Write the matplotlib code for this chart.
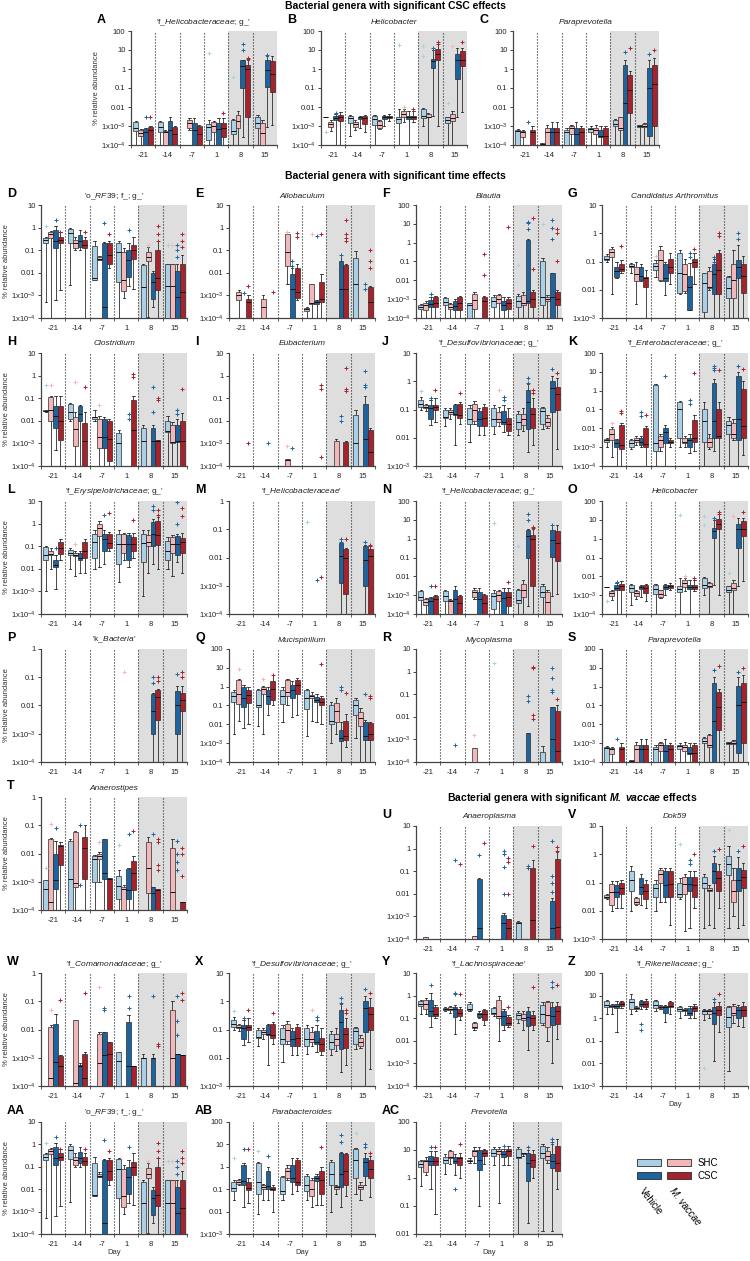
import matplotlib
matplotlib.use("Agg")
import matplotlib.pyplot as plt
from matplotlib.patches import Rectangle
from matplotlib.ticker import NullLocator

plt.rcParams["font.family"] = ["Liberation Sans", "DejaVu Sans"]
plt.rcParams["mathtext.fontset"] = "custom"
plt.rcParams["mathtext.rm"] = "Liberation Sans"
plt.rcParams["mathtext.it"] = "Liberation Sans:italic"
plt.rcParams["mathtext.bf"] = "Liberation Sans:bold"
plt.rcParams["mathtext.bfit"] = "Liberation Sans:italic:bold"

days = ["-21", "-14", "-7", "1", "8", "15"]
groups = ["Vehicle SHC", "M. vaccae SHC", "Vehicle CSC", "M. vaccae CSC"]
colors = ["#a9d0e7", "#f3b6b9", "#1b64a0", "#a8222b"]
decade_labels = {2: "100", 1: "10", 0: "1", -1: "0.1", -2: "0.01",
                 -3: "1x10$^{-3}$", -4: "1x10$^{-4}$"}

# one row per day, one box per group: (low whisker, q1, median, q3, high whisker)
# as log10(% relative abundance); -5 means below the axis; N = no box
N = None

helico_fam = [
    [(-5, -3.25, -3.1, -2.8, -2.75), (-5, -3.5, -3.35, -3.2, -3.15), (-5, -5, -3.3, -3.15, -3.1), (-5, -5, -3.2, -3.05, -3.0)],
    [(-5, -3.3, -3.05, -2.8, -2.75), (-5, -5, -3.3, -3.25, -3.2), (-5, -5, -3.2, -2.75, -2.5), (-5, -5, -3.4, -3.05, -3.0)],
    [N, (-3.2, -3.1, -2.85, -2.7, -2.6), (-5, -5, -3.2, -2.85, -2.6), (-5, -5, -3.4, -3.0, -2.95)],
    [(-5, -3.75, -3.05, -2.9, -2.7), (-5, -3.3, -3.0, -2.8, -2.75), (-5, -5, -3.15, -2.85, -2.6), (-5, -3.6, -3.1, -2.85, -2.6)],
    [(-5, -3.4, -3.25, -2.7, -2.65), (-5, -3.1, -2.75, -2.4, -2.2), (-3.6, -1.0, 0.15, 0.47, 0.5), (-5, -2.5, 0.0, 0.2, 0.5)],
    [(-5, -3.1, -2.85, -2.5, -2.4), (-5, -5, -3.35, -2.85, -2.7), (-3.05, -0.95, -0.05, 0.45, 0.7), (-2.95, -1.2, -0.25, 0.4, 0.7)],
]
helico_genus = [
    [(-2.55, -2.55, -2.55, -2.55, -2.55), (-3.25, -3.05, -2.9, -2.8, -2.7), (-5, -2.7, -2.6, -2.45, -2.35), (-5, -2.75, -2.5, -2.4, -2.25)],
    [(-3.5, -2.85, -2.6, -2.45, -2.4), (-3.2, -3.05, -2.9, -2.8, -2.7), (-3.1, -2.65, -2.55, -2.5, -2.45), (-3.3, -2.9, -2.6, -2.45, -2.4)],
    [(-5, -2.95, -2.65, -2.45, -2.4), (-3.15, -3.1, -2.95, -2.75, -2.7), (-3.0, -2.65, -2.55, -2.45, -2.4), (-2.75, -2.6, -2.5, -2.45, -2.35)],
    [(-5, -2.85, -2.65, -2.5, -2.1), (-2.8, -2.55, -2.35, -2.2, -2.1), (-5, -2.65, -2.55, -2.45, -2.2), (-2.8, -2.65, -2.55, -2.45, -2.2)],
    [(-3.0, -2.6, -2.45, -2.1, -2.05), (-5, -2.55, -2.5, -2.35, -2.3), (-2.45, 0.05, 0.4, 0.55, 1.0), (-3.0, 0.5, 0.8, 1.05, 1.3)],
    [(-5, -2.85, -2.7, -2.5, -2.5), (-5, -2.75, -2.6, -2.35, -2.2), (-2.5, -0.5, 0.5, 0.8, 1.1), (-2.25, 0.15, 0.5, 0.95, 1.1)],
]
paraprevotella = [
    [(-5, -5, -3.25, -3.2, -3.15), (-5, -3.6, -3.3, -3.25, -3.2), N, (-5, -5, -3.3, -3.2, -3.0)],
    [(-5, -5, -3.95, -3.9, -3.9), (-5, -5, -3.3, -3.1, -2.95), (-5, -5, -3.3, -3.1, -2.8), (-5, -5, -3.3, -3.1, -2.8)],
    [(-5, -5, -3.3, -3.2, -3.1), (-5, -3.4, -3.1, -3.0, -2.95), (-5, -5, -3.4, -3.1, -2.8), (-5, -5, -3.3, -3.1, -3.0)],
    [(-5, -3.3, -3.15, -3.1, -3.0), (-5, -3.4, -3.2, -3.1, -2.95), (-5, -3.6, -3.5, -3.2, -3.0), (-5, -4.0, -3.5, -3.1, -3.0)],
    [(-5, -3.0, -2.9, -2.7, -2.65), (-5, -3.2, -3.1, -2.55, -2.5), (-5, -4.5, -1.8, 0.2, 0.5), (-5, -2.3, -1.1, -0.3, -0.1)],
    [(-5, -3.05, -3.0, -2.95, -2.95), (-5, -3.05, -3.0, -2.9, -2.85), (-5, -3.5, -1.0, 0.05, 0.5), (-5, -3.0, -0.8, 0.2, 0.6)],
]
rf39 = [
    [(-3.3, -0.7, -0.55, -0.45, -0.4), (-5, -0.45, -0.3, -0.2, -0.15), (-3.2, -0.92, -0.6, -0.1, 0.05), (-2.75, -0.7, -0.55, -0.4, -0.2)],
    [(-2.55, -0.67, -0.23, -0.08, 0.0), (-1.0, -0.92, -0.7, -0.55, -0.4), (-1.0, -0.85, -0.6, -0.33, -0.1), (-5, -0.92, -0.75, -0.55, -0.4)],
    [(-2.3, -2.3, -2.25, -0.82, -0.58), (-1.45, -1.45, -1.4, -1.3, -1.25), (-5, -5, -3.5, -0.7, -0.65), (-1.8, -1.6, -1.2, -0.7, -0.6)],
    [(-5, -2.4, -1.1, -0.67, -0.6), (-3.1, -2.8, -2.3, -1.1, -0.9), (-2.6, -2.2, -1.45, -1.0, -0.7), (-2.7, -1.37, -1.0, -0.78, -0.4)],
    [(-5, -5, -2.62, -1.66, -1.6), (-3.95, -1.5, -1.3, -1.07, -0.85), (-3.5, -3.15, -2.4, -2.03, -1.9), (-4.0, -2.77, -2.25, -1.0, -0.6)],
    [(-5, -5, -2.6, -1.6, -1.6), (-5, -5, -2.6, -1.6, -1.6), (-5, -5, -3.07, -1.9, -1.6), (-5, -5, -2.85, -1.6, -1.2)],
]
allobaculum = [
    [N, (-4.0, -3.2, -3.0, -2.85, -2.75), N, (-5, -5, -3.3, -3.15, -3.0)],
    [N, (-5, -5, -3.5, -3.15, -3.0), N, N],
    [N, (-2.5, -1.7, -1.1, -0.3, -0.2), (-5, -5, -2.7, -2.05, -1.8), (-3.2, -3.1, -2.85, -1.8, -1.6)],
    [(-5, -3.7, -3.6, -3.55, -3.5), (-5, -3.4, -3.35, -2.5, -2.5), (-5, -3.4, -3.3, -3.25, -3.2), (-5, -3.3, -3.15, -2.4, -2.05)],
    [N, N, (-5, -5, -2.7, -1.5, -1.2), (-5, -5, -2.7, -1.65, -1.6)],
    [(-5, -5, -2.5, -1.35, -1.05), N, N, (-5, -5, -3.3, -2.65, -2.6)],
]
blautia = [
    [(-5, -3.5, -3.4, -3.3, -3.25), (-5, -3.6, -3.3, -3.2, -3.1), (-5, -3.4, -3.25, -3.05, -2.9), (-5, -3.4, -3.2, -2.9, -2.85)],
    [(-5, -3.3, -3.15, -2.95, -2.9), (-5, -3.5, -3.4, -3.25, -3.2), (-5, -3.6, -3.35, -3.1, -3.0), (-5, -3.6, -3.2, -2.9, -2.85)],
    [(-5, -5, -3.3, -3.2, -3.2), (-5, -3.5, -3.05, -2.7, -2.6), N, (-5, -5, -3.1, -2.9, -2.85)],
    [(-5, -3.4, -3.1, -2.9, -2.8), (-5, -3.2, -3.0, -2.8, -2.7), (-5, -3.6, -3.3, -3.1, -2.9), (-5, -3.5, -3.2, -3.0, -2.9)],
    [(-5, -3.4, -3.1, -2.85, -2.75), (-5, -3.3, -3.2, -2.8, -2.6), (-5, -3.2, -3.1, 0.15, 0.2), (-5, -3.4, -3.0, -2.6, -2.5)],
    [(-5, -3.3, -2.9, -0.95, -0.8), (-5, -3.1, -3.0, -2.9, -2.8), (-5, -5, -2.9, -1.6, -1.6), (-5, -3.3, -3.0, -2.6, -2.5)],
]
arthromitus = [
    [(-1.0, -0.95, -0.9, -0.8, -0.75), (-2.15, -0.85, -0.65, -0.55, -0.5), (-1.6, -1.55, -1.35, -1.2, -1.0), (-1.4, -1.35, -1.25, -1.1, -0.95)],
    [(-1.4, -1.2, -1.15, -1.1, -1.05), (-2.5, -1.7, -1.45, -1.2, -1.0), (-1.7, -1.65, -1.5, -1.2, -1.1), (-5, -1.9, -1.6, -1.55, -1.3)],
    [(-1.55, -1.3, -1.15, -1.05, -0.95), (-1.7, -1.65, -0.95, -0.6, -0.45), (-2.2, -1.7, -1.6, -1.1, -1.0), (-1.8, -1.4, -1.2, -0.9, -0.7)],
    [(-2.15, -2.1, -1.4, -0.7, -0.6), (-2.1, -2.05, -1.45, -1.1, -0.9), (-2.7, -2.7, -1.9, -1.5, -1.05), (-1.8, -1.2, -1.0, -0.9, -0.7)],
    [(-5, -2.8, -1.75, -1.4, -1.4), (-2.0, -1.95, -1.9, -1.35, -1.2), (-5, -2.15, -1.45, -1.1, -0.9), (-5, -2.15, -1.3, -0.7, -0.6)],
    [(-5, -2.3, -1.95, -1.55, -1.5), (-5, -2.3, -1.65, -1.1, -0.6), (-5, -1.6, -1.2, -0.95, -0.4), (-5, -2.1, -1.5, -1.1, -0.8)],
]
clostridium = [
    [(-1.6, -1.55, -1.55, -1.5, -1.5), (-5, -2.0, -1.5, -0.95, -0.9), (-3.3, -2.3, -1.8, -1.35, -0.9), (-5, -2.85, -2.0, -1.35, -0.9)],
    [(-2.0, -1.9, -1.6, -1.25, -1.2), (-5, -3.1, -2.35, -1.85, -1.6), (-5, -2.0, -1.7, -1.35, -1.3), (-5, -5, -2.9, -2.1, -1.6)],
    [(-2.0, -1.9, -1.85, -1.85, -1.5), (-5, -3.2, -2.7, -1.9, -1.8), (-5, -3.2, -2.7, -1.9, -1.85), (-5, -3.8, -2.8, -2.0, -1.9)],
    [(-5, -5, -3.0, -2.55, -2.4), N, N, (-5, -5, -2.4, -1.1, -0.9)],
    [(-5, -5, -2.9, -2.3, -2.2), N, (-5, -5, -2.9, -2.3, -2.2), (-5, -5, -2.9, -2.85, -2.85)],
    [(-5, -2.5, -2.45, -2.0, -1.8), (-5, -3.0, -2.95, -2.2, -2.05), (-5, -2.95, -2.9, -2.2, -1.9), (-5, -5, -2.9, -2.0, -1.65)],
]
eubacterium = [
    [N, N, N, N],
    [N, N, N, N],
    [N, (-5, -5, -3.75, -3.7, -3.7), N, N],
    [N, N, N, N],
    [N, (-5, -5, -4.0, -2.9, -2.8), N, (-5, -5, -4.0, -2.95, -2.9)],
    [(-5, -5, -3.0, -1.75, -1.5), N, (-5, -5, -2.8, -1.25, -0.9), (-5, -5, -3.4, -2.4, -2.3)],
]
desulfo = [
    [(-1.0, -0.9, -0.8, -0.65, -0.55), (-1.05, -0.95, -0.9, -0.85, -0.8), (-1.55, -1.35, -0.95, -0.85, -0.65), (-1.45, -1.0, -0.9, -0.85, -0.6)],
    [(-1.6, -1.3, -1.25, -1.0, -0.95), (-1.35, -1.15, -1.1, -1.0, -0.95), (-2.25, -1.2, -1.15, -0.85, -0.8), (-1.5, -1.3, -1.2, -0.8, -0.75)],
    [(-2.15, -1.5, -1.35, -0.95, -0.85), (-1.5, -1.4, -1.0, -0.8, -0.7), (-1.9, -1.6, -1.35, -1.05, -0.95), (-1.9, -1.6, -1.3, -0.9, -0.8)],
    [(-1.85, -1.6, -1.35, -0.95, -0.85), (-1.6, -1.45, -1.35, -1.1, -0.9), (-1.8, -1.5, -1.45, -1.05, -0.85), (-1.9, -1.75, -1.5, -1.3, -0.95)],
    [(-1.9, -1.7, -1.45, -1.15, -1.05), (-1.75, -1.55, -1.35, -1.15, -0.95), (-2.5, -1.7, -0.75, -0.3, -0.1), (-2.25, -1.65, -1.15, -0.95, -0.6)],
    [(-1.7, -1.5, -1.05, -0.95, -0.9), (-1.65, -1.6, -1.45, -1.3, -1.2), (-5, -1.1, -0.25, 0.0, 0.2), (-2.4, -1.0, -0.45, -0.2, 0.1)],
]
entero = [
    [(-3.0, -2.7, -2.6, -2.55, -2.5), (-3.5, -2.6, -2.3, -2.05, -1.95), (-5, -3.0, -2.8, -2.6, -2.55), (-5, -3.1, -2.9, -1.8, -1.7)],
    [(-3.1, -3.0, -2.8, -2.6, -2.55), (-2.9, -2.75, -2.6, -2.5, -2.4), (-3.0, -2.9, -2.75, -2.5, -2.4), (-5, -3.0, -2.85, -2.0, -1.9)],
    [(-5, -3.2, -2.8, 0.3, 0.35), (-3.2, -3.0, -2.6, -2.4, -2.3), (-5, -2.8, -2.2, -2.0, -1.8), (-3.0, -2.8, -2.7, -2.6, -2.5)],
    [(-3.0, -2.5, -1.0, -0.6, -0.55), (-3.0, -2.8, -2.7, -2.5, -2.4), (-3.3, -3.0, -2.6, -2.5, -2.3), (-3.2, -2.7, -2.5, -1.55, -1.3)],
    [(-5, -2.7, -1.6, -1.0, -0.6), (-3.1, -3.0, -2.75, -2.5, -2.3), (-3.2, -2.5, -1.6, 0.4, 0.6), (-5, -2.5, -2.4, -1.0, -0.6)],
    [(-5, -2.3, -1.8, -1.6, -1.4), (-2.6, -2.5, -2.3, -1.7, -1.5), (-5, -2.6, -1.5, 0.8, 1.0), (-3.4, -2.5, -1.9, 0.1, 0.5)],
]
erysipelo = [
    [(-3.0, -1.6, -1.4, -1.05, -1.0), (-2.0, -1.4, -1.35, -1.2, -1.1), (-2.9, -1.9, -1.85, -1.6, -1.4), (-1.6, -1.35, -1.1, -0.8, -0.7)],
    [(-2.0, -1.4, -1.3, -1.15, -1.1), (-2.3, -1.45, -1.4, -1.3, -1.2), (-2.2, -1.6, -1.5, -1.3, -1.2), (-2.2, -1.5, -1.2, -0.8, -0.7)],
    [(-2.0, -1.5, -0.8, -0.45, -0.3), (-1.9, -0.55, -0.2, 0.0, 0.1), (-1.8, -1.2, -0.7, -0.45, -0.3), (-1.2, -1.1, -0.85, -0.45, -0.35)],
    [(-2.6, -1.8, -0.9, -0.45, -0.3), (-1.6, -1.3, -0.9, -0.45, -0.4), (-1.9, -1.6, -0.9, -0.5, -0.4), (-1.5, -1.2, -0.9, -0.6, -0.4)],
    [(-3.2, -1.7, -0.85, -0.45, -0.3), (-2.2, -1.0, -0.8, -0.5, -0.3), (-1.8, -1.0, -0.45, 0.05, 0.2), (-2.0, -0.95, -0.5, 0.1, 0.3)],
    [(-2.0, -1.6, -1.2, -0.75, -0.6), (-2.3, -1.3, -0.9, -0.6, -0.5), (-1.7, -1.4, -0.9, -0.55, -0.45), (-2.2, -1.3, -0.8, -0.65, -0.4)],
]
helico_fam_only = [
    [N, N, N, N], [N, N, N, N], [N, N, N, N], [N, N, N, N],
    [N, N, (-5, -2.9, -1.95, -1.5, -1.45), (-5, -3.3, -2.0, -1.7, -1.65)],
    [N, N, (-5, -3.0, -2.1, -1.6, -1.55), (-5, -5, -1.95, -1.7, -1.6)],
]
k_bacteria = [
    [N, N, N, N], [N, N, N, N], [N, N, N, N], [N, N, N, N],
    [N, N, (-5, -3.0, -2.2, -1.6, -1.55), (-5, -2.5, -1.7, -1.45, -1.4)],
    [N, N, (-5, -3.0, -2.0, -1.5, -1.3), (-5, -2.2, -1.8, -1.55, -1.3)],
]
mucispirillum = [
    [(-2.5, -0.8, -0.5, -0.3, -0.2), (-1.8, -0.9, -0.4, 0.35, 0.4), (-2.2, -1.1, -0.6, 0.0, 0.1), (-2.0, -0.85, -0.45, -0.2, 0.0)],
    [(-2.1, -1.1, -1.0, -0.2, -0.1), (-2.5, -0.4, -0.1, 0.0, 0.05), (-1.5, -0.9, -0.5, -0.2, 0.0), (-1.0, -0.7, -0.1, 0.3, 0.6)],
    [(-1.9, -0.9, -0.5, -0.2, 0.0), (-1.0, -0.5, -0.3, 0.35, 0.4), (-1.6, -0.6, -0.2, 0.1, 0.3), (-1.5, -0.4, 0.1, 0.35, 0.45)],
    [(-2.6, -1.2, -0.6, -0.2, -0.1), (-1.8, -0.6, -0.5, -0.45, -0.3), (-1.9, -0.8, -0.7, -0.55, -0.4), (-2.0, -1.0, -0.8, -0.6, -0.5)],
    [(-3.0, -2.0, -1.8, -1.0, -0.8), (-2.5, -1.9, -1.3, -0.85, -0.6), (-4.0, -2.9, -2.75, -2.3, -1.9), (-3.2, -2.85, -2.6, -1.8, -1.45)],
    [(-2.75, -1.5, -1.0, -0.7, -0.6), (-4.0, -2.1, -1.65, -1.35, -1.15), (-4.0, -2.85, -2.6, -1.9, -1.75), (-4.0, -2.85, -2.5, -1.95, -1.9)],
]
mycoplasma = [
    [N, N, N, N], [N, N, N, N],
    [N, (-5, -5, -4.5, -3.4, -3.4), N, N],
    [N, N, N, N],
    [N, N, (-5, -5, -4.5, -2.7, -2.7), N],
    [(-5, -5, -4.5, -3.55, -3.3), N, (-5, -5, -3.0, -1.55, -1.55), (-5, -5, -3.5, -1.75, -1.5)],
]
anaerostipes = [
    [(-5, -5, -3.25, -2.95, -2.95), (-5, -5, -3.7, -1.5, -1.45), (-5, -3.25, -2.95, -2.0, -1.55), (-5, -2.4, -1.75, -1.7, -1.6)],
    [(-5, -5, -2.9, -1.55, -1.5), (-5, -3.2, -3.05, -1.25, -1.2), N, (-5, -2.9, -1.8, -1.4, -1.0)],
    [(-5, -3.0, -2.2, -2.1, -2.05), (-3.0, -2.2, -2.1, -2.0, -1.95), (-5, -2.9, -2.7, -1.5, -1.5), (-5, -5, -2.9, -2.85, -2.85)],
    [(-5, -3.6, -3.15, -2.8, -2.6), (-5, -5, -3.25, -3.2, -3.1), (-5, -3.6, -3.3, -2.55, -2.5), (-5, -3.3, -2.7, -2.25, -2.1)],
    [N, (-5, -3.4, -2.5, -1.6, -1.4), (-5, -5, -3.4, -3.2, -3.2), (-5, -5, -3.3, -3.25, -3.25)],
    [N, (-5, -5, -3.35, -1.8, -1.5), N, (-5, -5, -3.7, -3.7, -3.7)],
]
anaeroplasma = [
    [N, (-5, -5, -4.0, -3.9, -3.9), N, N],
    [N, N, N, N],
    [N, (-5, -5, -4.0, -3.85, -3.85), (-5, -5, -3.5, -1.35, -1.3), N],
    [N, N, (-5, -5, -3.3, -2.95, -2.85), (-5, -5, -3.5, -3.1, -3.1)],
    [(-5, -5, -3.3, -3.25, -3.2), N, N, (-5, -5, -3.15, -0.85, -0.5)],
    [N, N, (-5, -5, -3.5, -2.3, -2.2), (-5, -5, -3.45, -0.45, -0.15)],
]
dok59 = [
    [(-1.6, -1.55, -1.5, -1.45, -1.4), (-2.0, -1.8, -1.35, -1.05, -0.95), (-1.9, -1.5, -1.35, -1.1, -0.95), (-1.9, -1.4, -1.2, -1.0, -0.9)],
    [(-2.0, -1.3, -0.9, -0.6, -0.4), (-1.8, -1.75, -1.7, -1.55, -1.5), (-1.8, -1.4, -1.15, -0.85, -0.7), (-1.9, -1.6, -1.3, -1.05, -0.9)],
    [(-2.0, -1.5, -1.2, -1.05, -0.9), (-1.7, -1.0, -0.7, -0.55, -0.5), (-1.7, -1.5, -1.1, -0.6, -0.5), (-2.5, -1.5, -1.05, -0.6, -0.5)],
    [(-1.6, -1.5, -1.4, -1.0, -0.85), (-2.7, -1.4, -1.05, -0.8, -0.7), (-2.6, -1.3, -1.05, -0.8, -0.6), (-1.9, -1.5, -1.1, -0.8, -0.6)],
    [(-2.6, -1.2, -1.0, -0.8, -0.7), (-2.5, -1.3, -1.25, -1.2, -1.1), (-2.6, -1.0, -0.6, -0.3, -0.05), (-1.9, -1.3, -0.85, -0.6, -0.35)],
    [(-2.6, -0.75, -0.35, -0.05, 0.3), (-2.2, -1.7, -1.3, -0.9, -0.5), (-2.6, -1.3, -0.9, -0.5, -0.1), (-2.5, -1.2, -0.8, -0.55, -0.3)],
]
comamonad = [
    [N, (-5, -5, -3.7, -1.9, -1.85), (-5, -5, -3.15, -1.8, -1.45), (-5, -5, -3.3, -2.95, -2.9)],
    [N, (-5, -5, -3.9, -1.65, -1.65), (-5, -5, -3.3, -3.25, -3.2), (-5, -5, -3.7, -2.85, -2.8)],
    [N, (-5, -5, -3.2, -2.15, -2.1), (-5, -5, -2.9, -2.1, -2.1), (-5, -5, -2.85, -2.45, -2.45)],
    [(-5, -5, -3.1, -2.8, -2.8), N, (-5, -5, -3.3, -1.75, -1.5), (-5, -5, -3.3, -3.3, -3.3)],
    [(-5, -5, -3.0, -3.0, -2.85), N, (-5, -5, -3.0, -3.0, -2.85), N],
    [N, (-5, -5, -3.0, -1.3, -1.0), (-5, -5, -2.85, -2.85, -2.85), (-5, -5, -2.9, -2.9, -2.9)],
]
lachno = [
    [(-0.8, -0.45, -0.35, -0.25, -0.2), (-0.8, -0.6, -0.35, -0.2, -0.1), (-1.4, -0.9, -0.7, -0.2, 0.1), (-1.0, -0.9, -0.8, -0.5, -0.4)],
    [(-0.7, -0.65, -0.6, -0.55, -0.5), (-0.75, -0.65, -0.6, -0.5, -0.45), (-1.7, -0.95, -0.6, -0.5, -0.4), (-1.1, -0.9, -0.75, -0.6, -0.5)],
    [(-0.7, -0.65, -0.6, -0.35, -0.3), (-1.5, -1.45, -1.4, -1.2, -1.15), (-1.0, -0.95, -0.8, -0.75, -0.7), (-1.3, -1.1, -0.8, -0.65, -0.6)],
    [(-0.9, -0.8, -0.75, -0.55, -0.5), (-2.0, -1.0, -0.9, -0.2, 0.0), (-1.5, -1.3, -0.9, -0.7, -0.6), (-1.4, -1.3, -1.2, -0.95, -0.85)],
    [(-1.2, -1.05, -0.85, -0.75, -0.7), (-1.5, -1.1, -1.0, -0.8, -0.7), (-2.4, -1.35, -0.95, -0.7, -0.5), (-1.5, -1.3, -1.0, -0.85, -0.7)],
    [(-1.3, -1.2, -0.8, -0.4, -0.3), (-2.0, -1.4, -0.85, -0.3, -0.25), (-3.0, -1.3, -0.9, -0.5, -0.3), (-1.9, -1.25, -0.7, -0.45, -0.3)],
]
rikenella = [
    [(0.2, 0.5, 0.6, 0.75, 0.8), (0.2, 0.5, 0.55, 0.6, 0.65), (-0.6, 0.45, 0.55, 0.65, 0.75), (0.45, 0.55, 0.65, 0.7, 0.75)],
    [(0.2, 0.4, 0.7, 0.85, 1.05), (0.3, 0.4, 0.45, 0.5, 0.55), (0.4, 0.55, 0.65, 0.75, 0.8), (0.4, 0.5, 0.65, 0.75, 0.85)],
    [(0.3, 0.45, 0.6, 0.75, 0.8), (0.4, 0.45, 0.5, 0.55, 0.6), (-0.15, 0.25, 0.5, 0.55, 0.6), (0.2, 0.5, 0.55, 0.7, 0.75)],
    [(0.0, 0.3, 0.4, 0.5, 0.55), (0.15, 0.3, 0.35, 0.4, 0.45), (0.0, 0.15, 0.25, 0.45, 0.55), (0.0, 0.3, 0.45, 0.55, 0.65)],
    [(-0.1, 0.2, 0.3, 0.35, 0.4), (0.0, 0.2, 0.3, 0.35, 0.4), (-1.9, -0.25, 0.25, 0.5, 0.7), (-0.6, 0.15, 0.35, 0.55, 0.7)],
    [(-2.35, -0.4, 0.05, 0.5, 0.55), (-0.2, 0.15, 0.25, 0.55, 0.65), (-0.35, 0.0, 0.35, 0.5, 0.6), (-0.4, 0.1, 0.35, 0.55, 0.7)],
]
parabacteroides = [
    [(-1.5, -1.1, -0.95, -0.7, -0.6), (-0.8, -0.75, -0.7, -0.6, -0.55), (-1.8, -0.8, -0.65, 0.1, 0.15), (-1.6, -1.05, -0.95, -0.7, -0.5)],
    [(-2.1, -1.2, -0.7, 0.15, 0.2), (-1.5, -1.0, -0.9, -0.8, -0.75), (-1.5, -1.0, -0.85, -0.2, 0.0), (-2.0, -1.05, -1.0, -0.9, -0.8)],
    [(-1.5, -1.2, -1.1, -0.45, -0.4), (-0.6, -0.5, -0.2, -0.05, 0.1), (-1.2, -0.7, -0.5, 0.1, 0.4), (-1.1, -0.8, -0.7, 0.3, 0.4)],
    [(-1.5, -1.1, -0.8, -0.4, -0.3), (-1.8, -1.3, -1.0, -0.6, -0.5), (-1.7, -0.65, -0.5, -0.4, -0.3), (-1.7, -1.2, -0.6, -0.2, 0.0)],
    [(-2.0, -0.8, -0.3, 0.2, 0.3), (-1.2, -1.0, -0.9, -0.85, -0.8), (-1.8, -0.9, -0.3, 0.6, 0.65), (-1.3, -0.8, -0.2, 0.55, 0.6)],
    [(-1.2, -0.5, 0.3, 0.8, 0.85), (-1.5, -1.0, -0.9, -0.8, -0.7), (-0.8, -0.4, 0.2, 0.4, 0.6), (-1.35, -0.5, -0.1, 0.3, 0.5)],
]
prevotella = [
    [(-0.3, 0.4, 0.5, 0.6, 0.65), (0.1, 0.2, 0.6, 0.65, 0.75), (-0.4, 0.45, 0.6, 0.8, 0.95), (-1.3, 0.45, 0.6, 0.75, 0.95)],
    [(0.15, 0.55, 0.65, 0.75, 0.85), (0.5, 0.7, 0.75, 0.95, 1.0), (0.1, 0.55, 0.6, 0.75, 0.85), (0.0, 0.45, 0.7, 0.75, 0.9)],
    [(0.55, 0.6, 0.62, 0.65, 0.7), (0.55, 0.8, 0.95, 1.0, 1.1), (-1.0, 0.3, 0.65, 1.0, 1.1), (0.5, 0.8, 0.9, 1.0, 1.05)],
    [(0.45, 0.8, 0.9, 1.05, 1.1), (-0.9, 0.85, 0.95, 1.05, 1.1), (0.45, 0.75, 0.85, 0.95, 1.05), (0.45, 0.8, 0.95, 1.05, 1.15)],
    [(-2.5, 0.7, 0.75, 1.05, 1.1), (0.8, 0.85, 0.9, 0.9, 0.9), (-1.6, -0.1, 0.55, 0.9, 1.0), (0.0, 0.4, 0.65, 0.85, 1.0)],
    [(-1.9, 0.7, 0.9, 1.15, 1.2), (0.55, 0.65, 0.8, 0.95, 1.1), (-1.9, 0.35, 0.6, 0.85, 1.2), (-0.4, 0.25, 0.55, 1.15, 1.4)],
]

# outlier points: (day index, group index, log10 % relative abundance)
helico_fam_out = [(0, 2, -2.5), (0, 3, -2.5), (3, 0, 0.85), (3, 3, -2.3), (4, 0, -0.4),
                  (4, 2, 1.3), (4, 2, 1.0), (4, 3, 0.6), (4, 3, 0.55), (5, 2, 0.75)]
helico_genus_out = [(0, 0, -3.3), (0, 2, -2.3), (3, 0, 1.25), (3, 1, -2.0), (3, 3, -2.1),
                    (4, 0, 1.2), (4, 0, 0.7), (4, 2, 1.1), (4, 3, 1.4), (4, 3, 1.3),
                    (5, 0, -1.8), (5, 1, 1.2), (5, 3, 1.4)]
paraprevotella_out = [(0, 2, -2.8), (4, 2, 0.9), (4, 3, 1.1), (5, 2, 0.8), (5, 3, 1.0)]
rf39_out = [(0, 0, 0.05), (0, 2, 0.35), (0, 3, -0.2), (1, 3, -0.2), (2, 2, 0.2), (2, 3, -0.3),
            (3, 2, -0.1), (4, 1, -0.75), (4, 3, 0.05), (4, 3, -0.3), (4, 3, -0.6), (5, 0, -0.75),
            (5, 1, -0.75), (5, 2, -0.75), (5, 2, -1.0), (5, 2, -1.3), (5, 3, -0.3), (5, 3, -0.6),
            (5, 3, -0.85)]
allobaculum_out = [(0, 2, -2.9), (0, 3, -2.6), (1, 3, -2.85), (2, 1, -0.2), (2, 2, -1.5), (2, 2, -1.7),
                   (2, 3, -0.25), (2, 3, -0.4), (3, 1, -0.3), (3, 2, -0.35), (3, 3, -0.3),
                   (4, 3, 0.35), (4, 3, -0.3), (4, 3, -0.45), (4, 3, -0.6), (4, 2, -1.2),
                   (5, 2, -2.5), (5, 2, -2.7), (5, 3, -1.0), (5, 3, -1.5), (5, 3, -1.8)]
blautia_out = [(0, 2, -2.7), (2, 3, -0.6), (2, 3, -1.7), (3, 3, 0.85), (4, 0, -1.2), (4, 2, 1.1),
               (4, 2, 1.05), (4, 2, 0.7), (4, 3, 1.3), (4, 3, -1.4), (5, 0, 1.0), (5, 2, 1.2),
               (5, 2, 0.8), (5, 2, 0.2), (5, 3, 0.75), (5, 3, 0.5), (5, 3, -1.0)]
arthromitus_out = [(0, 3, -0.45), (2, 0, -0.8), (3, 2, -0.7), (3, 2, -0.85), (3, 3, -0.55),
                   (4, 2, -0.85), (4, 2, -1.0), (4, 3, 0.0), (4, 3, -0.1), (5, 2, 0.0), (5, 2, -0.2)]
clostridium_out = [(0, 0, -0.4), (0, 1, -0.4), (1, 1, -0.3), (1, 3, -0.5), (2, 1, -1.3),
                   (3, 2, -1.7), (3, 2, -1.9), (3, 3, 0.05), (3, 3, -0.05), (4, 2, -0.5), (4, 2, -1.6),
                   (4, 3, -1.0), (4, 3, -1.1), (5, 2, -1.5), (5, 2, -1.7), (5, 3, -0.6)]
eubacterium_out = [(0, 3, -3.0), (1, 2, -3.0), (2, 1, -3.1), (2, 2, -3.2), (3, 3, -0.4),
                   (3, 3, -0.6), (3, 3, -3.6), (4, 3, 0.35), (4, 3, -0.6), (4, 3, -0.7),
                   (4, 2, -1.8), (4, 2, -2.0), (5, 2, 0.2), (5, 2, -0.4), (5, 2, -0.5)]
desulfo_out = [(0, 0, -0.35), (0, 2, -0.6), (0, 3, -0.3), (1, 3, -0.4), (3, 1, -0.3),
               (3, 2, -0.55), (3, 2, -0.65), (4, 2, 0.1), (4, 2, -0.05), (4, 3, -0.3),
               (4, 3, -0.4), (5, 2, 0.45), (5, 3, 0.3)]
entero_out = [(0, 1, -1.7), (0, 3, -1.1), (0, 3, -1.2), (1, 2, -1.15), (1, 2, -1.35), (1, 3, -1.3),
              (2, 2, 0.8), (3, 2, -0.5), (3, 2, -0.7), (3, 3, 0.95), (4, 2, 1.3), (4, 2, 1.2),
              (4, 2, 1.1), (4, 3, 1.1), (5, 2, 1.3), (5, 3, 1.15)]
erysipelo_out = [(0, 2, -1.1), (1, 1, -0.9), (2, 2, 0.4), (2, 3, 0.45), (3, 3, 0.15), (4, 2, 0.8),
                 (4, 2, 0.6), (4, 3, 0.6), (4, 3, 0.4), (5, 2, 0.95), (5, 2, 0.0), (5, 3, 0.7),
                 (5, 3, 0.35)]
helico_fam_only_out = [(3, 0, -0.75), (3, 2, -2.8), (3, 3, -2.7), (4, 2, -1.35), (4, 2, -1.45),
                       (4, 3, -1.35), (5, 2, -1.45), (5, 3, -1.55), (5, 3, -1.6)]
k_bacteria_out = [(3, 1, -0.8), (4, 2, -1.0), (4, 2, -1.2), (4, 3, -1.0), (4, 3, -1.15),
                  (5, 2, -0.9), (5, 3, -0.8), (5, 3, -1.0)]
mucispirillum_out = [(0, 1, 0.95), (1, 1, 0.4), (1, 3, 0.6), (3, 3, 1.2), (4, 2, 0.0), (4, 2, -0.2),
                     (4, 3, -0.35), (5, 2, -0.4), (5, 3, -0.5), (5, 3, -0.6)]
mycoplasma_out = [(1, 2, -3.25), (2, 1, -2.8), (3, 0, 0.4), (4, 2, -1.1), (4, 2, -1.3), (4, 3, 0.2),
                  (4, 3, 0.15), (4, 3, -1.9), (4, 3, -2.1), (5, 2, 0.15), (5, 2, -0.3), (5, 2, -0.8),
                  (5, 2, -0.9), (5, 3, -1.2)]
anaerostipes_out = [(0, 0, -2.5), (0, 1, -0.95), (0, 2, -1.1), (1, 2, -1.0), (1, 2, -3.1),
                    (2, 1, -1.6), (3, 0, -1.7), (3, 2, -1.3), (3, 3, -1.2), (4, 2, -1.3), (4, 3, -1.5),
                    (4, 3, -1.6), (4, 3, -2.4), (4, 3, -2.6), (5, 2, -1.55), (5, 2, -2.0),
                    (5, 2, -2.3), (5, 2, -2.6), (5, 3, -1.8), (5, 3, -2.0), (5, 3, -2.8)]
anaeroplasma_out = [(1, 2, -0.5), (1, 3, -0.7), (2, 2, -0.3), (2, 3, 0.25), (3, 2, -0.1),
                    (3, 2, -0.25), (3, 2, -0.8), (3, 2, -2.0), (3, 3, -0.4), (3, 3, -0.6),
                    (3, 3, -2.0), (4, 2, -0.75), (4, 2, -0.85), (4, 3, 0.1), (5, 2, 0.35),
                    (5, 2, -1.2), (5, 2, -1.5), (5, 2, -1.9), (5, 3, 0.05), (5, 3, -0.1)]
dok59_out = [(3, 0, 0.35), (3, 2, -0.2), (3, 2, -0.35), (3, 3, 0.0), (4, 2, 0.1), (4, 3, 0.2),
             (5, 0, 0.85), (5, 2, 0.1), (5, 3, 0.3)]
comamonad_out = [(0, 1, -1.3), (0, 3, -0.95), (1, 3, -0.7), (2, 1, -0.5), (2, 2, -1.25),
                 (2, 2, -1.3), (3, 2, -0.8), (3, 2, -1.25), (4, 2, -0.8), (4, 3, -2.6),
                 (4, 3, -2.5), (5, 2, -0.8), (5, 2, -1.7), (5, 2, -2.2), (5, 3, -0.7), (5, 3, -0.95)]
lachno_out = [(0, 2, 0.45), (1, 2, 0.1), (1, 2, 0.05), (1, 3, 0.05), (3, 3, -0.5), (4, 3, 0.4),
              (5, 2, 0.4), (5, 2, 0.6), (5, 3, 0.45)]
rikenella_out = [(1, 2, -0.25), (1, 2, -0.5), (4, 2, 0.85), (4, 3, 1.05), (4, 0, -2.2)]
parabacteroides_out = [(0, 0, 0.4), (0, 2, 0.8), (0, 3, 0.8), (1, 0, 0.7), (1, 2, 0.5), (3, 3, 0.9),
                       (4, 2, 1.4), (4, 2, 1.1), (5, 0, 1.5), (5, 2, 1.0), (5, 2, 0.9), (5, 3, 0.6)]
prevotella_out = [(0, 2, 1.1), (0, 3, 1.1), (1, 2, -0.4), (1, 3, 1.2), (3, 2, 1.15), (4, 2, 1.1),
                  (5, 2, 1.4), (5, 2, 1.3)]

# ---- layout (pixels in a 750 x 1261 canvas) ----
W_PX, H_PX = 750, 1261
col3 = [131, 321, 513]
col4 = [41, 229, 416, 602]
AX_W = 146

# letter, title, data, outliers, log10 y-range, left, top, height, y-label, x-label
panels = [
    ("A", "'f_$\\mathit{Helicobacteraceae}$; g_'", helico_fam, helico_fam_out, (-4, 2), col3[0], 31, 114, True, False),
    ("B", "Helicobacter", helico_genus, helico_genus_out, (-4, 2), col3[1], 31, 114, False, False),
    ("C", "Paraprevotella", paraprevotella, paraprevotella_out, (-4, 2), col3[2], 31, 114, False, False),
    ("D", "'o_$\\mathit{RF39}$; f_; g_'", rf39, rf39_out, (-4, 1), col4[0], 205, 113, True, False),
    ("E", "Allobaculum", allobaculum, allobaculum_out, (-4, 1), col4[1], 205, 113, False, False),
    ("F", "Blautia", blautia, blautia_out, (-4, 2), col4[2], 205, 113, False, False),
    ("G", "Candidatus Arthromitus", arthromitus, arthromitus_out, (-3, 1), col4[3], 205, 113, False, False),
    ("H", "Clostridium", clostridium, clostridium_out, (-4, 1), col4[0], 353, 113, True, False),
    ("I", "Eubacterium", eubacterium, eubacterium_out, (-4, 1), col4[1], 353, 113, False, False),
    ("J", "'f_$\\mathit{Desulfovibrionaceae}$; g_'", desulfo, desulfo_out, (-3, 1), col4[2], 353, 113, False, False),
    ("K", "'f_$\\mathit{Enterobacteraceae}$; g_'", entero, entero_out, (-4, 2), col4[3], 353, 113, False, False),
    ("L", "'f_$\\mathit{Erysipelotrichaceae}$; g_'", erysipelo, erysipelo_out, (-4, 1), col4[0], 501, 113, True, False),
    ("M", "'f_$\\mathit{Helicobacteraceae}$'", helico_fam_only, helico_fam_only_out, (-4, 0), col4[1], 501, 113, False, False),
    ("N", "'f_$\\mathit{Helicobacteraceae}$; g_'", helico_fam, helico_fam_out, (-4, 2), col4[2], 501, 113, False, False),
    ("O", "Helicobacter", helico_genus, helico_genus_out, (-4, 2), col4[3], 501, 113, False, False),
    ("P", "'k_$\\mathit{Bacteria}$'", k_bacteria, k_bacteria_out, (-4, 0), col4[0], 649, 113, True, False),
    ("Q", "Mucispirillum", mucispirillum, mucispirillum_out, (-4, 2), col4[1], 649, 113, False, False),
    ("R", "Mycoplasma", mycoplasma, mycoplasma_out, (-4, 1), col4[2], 649, 113, False, False),
    ("S", "Paraprevotella", paraprevotella, paraprevotella_out, (-4, 2), col4[3], 649, 113, False, False),
    ("T", "Anaerostipes", anaerostipes, anaerostipes_out, (-4, 0), col4[0], 797, 113, True, False),
    ("U", "Anaeroplasma", anaeroplasma, anaeroplasma_out, (-4, 1), col4[2], 826, 113, False, False),
    ("V", "Dok59", dok59, dok59_out, (-3, 1), col4[3], 826, 113, False, False),
    ("W", "'f_$\\mathit{Comamonadaceae}$; g_'", comamonad, comamonad_out, (-4, 0), col4[0], 973, 113, True, False),
    ("X", "'f_$\\mathit{Desulfovibrionaceae}$; g_'", desulfo, desulfo_out, (-3, 1), col4[1], 973, 113, False, False),
    ("Y", "'f_$\\mathit{Lachnospiraceae}$'", lachno, lachno_out, (-4, 1), col4[2], 973, 113, False, False),
    ("Z", "'f_$\\mathit{Rikenellaceae}$; g_'", rikenella, rikenella_out, (-3, 2), col4[3], 973, 113, False, True),
    ("AA", "'o_$\\mathit{RF39}$; f_; g_'", rf39, rf39_out, (-4, 1), col4[0], 1122, 112, True, True),
    ("AB", "Parabacteroides", parabacteroides, parabacteroides_out, (-3, 2), col4[1], 1122, 112, False, True),
    ("AC", "Prevotella", prevotella, prevotella_out, (-2, 2), col4[2], 1122, 112, False, True),
]

fig = plt.figure(figsize=(7.5, 12.61), dpi=100)


def fx(px):
    return px / W_PX


def fy(py):
    return 1 - py / H_PX


def box_x(day, group):
    return day + 0.5 + (group - 1.5) * 0.2


def draw_panel(ax, data, outliers, yrange):
    stats, pos, cols = [], [], []
    for i, day_boxes in enumerate(data):
        for g, b in enumerate(day_boxes):
            if b is None:
                continue
            lo, q1, med, q3, hi = (10.0 ** v for v in b)
            stats.append(dict(whislo=lo, q1=q1, med=med, q3=q3, whishi=hi))
            pos.append(box_x(i, g))
            cols.append(colors[g])

    ax.axvspan(4, 6, color="#dedede", lw=0, zorder=0)
    for x in range(1, 6):
        ax.axvline(x, color="#222222", lw=0.8, ls=(0, (1, 1.7)), zorder=1)

    if stats:
        art = ax.bxp(stats, positions=pos, widths=0.2, capwidths=0.1,
                     patch_artist=True, showfliers=False, manage_ticks=False,
                     boxprops=dict(lw=0.5, edgecolor="#2b2b2b", zorder=3),
                     whiskerprops=dict(lw=0.6, color="#2b2b2b", zorder=2.5),
                     capprops=dict(lw=0.6, color="#2b2b2b", zorder=2.5),
                     medianprops=dict(lw=0.7, color="#111111", zorder=4))
        for patch, c in zip(art["boxes"], cols):
            patch.set_facecolor(c)

    for g in range(4):
        pts = [(box_x(d, gg), 10.0 ** v) for d, gg, v in outliers if gg == g]
        if pts:
            xs, ys = zip(*pts)
            ax.plot(xs, ys, ls="none", marker="+", ms=2.6, mew=0.7, color=colors[g], zorder=5)

    lo, hi = yrange
    ax.set_yscale("log")
    ax.set_ylim(10.0 ** lo, 10.0 ** hi)
    ax.set_xlim(0, 6)
    ax.yaxis.set_minor_locator(NullLocator())
    ax.set_yticks([10.0 ** e for e in range(lo, hi + 1)],
                  [decade_labels[e] for e in range(lo, hi + 1)])
    ax.set_xticks(range(7), [""] * 7)
    ax.set_xticks([i + 0.5 for i in range(6)], days, minor=True)
    ax.tick_params(axis="y", labelsize=5.5, length=2.5, width=0.6, pad=1.5, colors="#222222")
    ax.tick_params(axis="x", which="major", length=2.5, width=0.6, colors="#444444")
    ax.tick_params(axis="x", which="minor", length=0, labelsize=5.5, pad=5, labelcolor="#222222")
    for side in ("top", "right"):
        ax.spines[side].set_visible(False)
    for side in ("left", "bottom"):
        ax.spines[side].set_linewidth(0.9)
        ax.spines[side].set_color("#444444")


for letter, title, data, outliers, yrange, left, top, height, ylab, xlab in panels:
    ax = fig.add_axes([fx(left), fy(top + height), fx(AX_W), height / H_PX])
    draw_panel(ax, data, outliers, yrange)
    fig.text(fx(left - 34), fy(top - 11), letter, fontsize=9, fontweight="bold",
             ha="left", va="center")
    fig.text(fx(left + AX_W / 2), fy(top - 9), title, fontsize=6, ha="center", va="center",
             fontstyle="normal" if "$" in title else "italic", color="#222222")
    if ylab:
        ax.set_ylabel("% relative abundance", fontsize=5.5, color="#333333")
        ax.yaxis.set_label_coords(-31 / AX_W, 0.5)
    if xlab:
        ax.set_xlabel("Day", fontsize=5.5, color="#333333", labelpad=1)

fig.text(fx(395), fy(6), "Bacterial genera with significant CSC effects",
         fontsize=7.5, fontweight="bold", ha="center", va="center")
fig.text(fx(395), fy(176), "Bacterial genera with significant time effects",
         fontsize=7.5, fontweight="bold", ha="center", va="center")
fig.text(fx(572), fy(798), "Bacterial genera with significant $\\mathbfit{M.\\ vaccae}$ effects",
         fontsize=7.5, fontweight="bold", ha="center", va="center")

# legend
for g, (lx, ly) in enumerate([(637, 1159), (667, 1159), (637, 1172), (667, 1172)]):
    fig.add_artist(Rectangle((fx(lx), fy(ly + 7)), fx(24), 7 / H_PX, transform=fig.transFigure,
                             facecolor=colors[g], edgecolor="#2b2b2b", lw=0.6))
fig.text(fx(698), fy(1163), "SHC", fontsize=7, ha="left", va="center")
fig.text(fx(698), fy(1176), "CSC", fontsize=7, ha="left", va="center")
fig.text(fx(645), fy(1186), "Vehicle", fontsize=7, rotation=-52, rotation_mode="anchor",
         ha="left", va="top")
fig.text(fx(675), fy(1186), "M. vaccae", fontsize=7, fontstyle="italic", rotation=-52,
         rotation_mode="anchor", ha="left", va="top")

fig.savefig("out.png", dpi=100)
